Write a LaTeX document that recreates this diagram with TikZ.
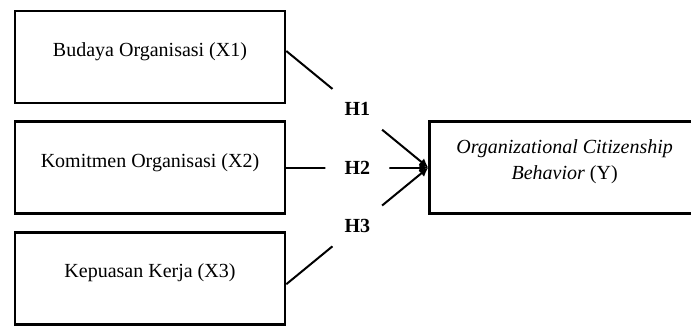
\documentclass[tikz,border=0pt]{standalone}
\usepackage{fontspec}
\setmainfont{Liberation Serif}
\usetikzlibrary{arrows.meta, positioning}

\begin{document}
\begin{tikzpicture}[
  node distance=8pt and 71pt,
  every node/.style={font=\fontsize{10}{13}\selectfont},
  box/.style={rectangle, draw, line width=1.3pt, minimum width=135pt, minimum height=46pt, align=center, text height=7pt, text depth=7.5pt},
  arrow/.style={-{Latex[length=4.5pt, width=4.5pt]}, line width=1pt},
  hyp/.style={circle, fill=white, minimum size=32pt, inner sep=0pt, font=\fontsize{10}{12}\selectfont\bfseries},
]
  \useasboundingbox (-75pt, 28.5pt) rectangle ++(345.5pt,-164.5pt);

  \node[box] (budaya) at (0,0) {Budaya Organisasi (X1)};
  \node[box, below=of budaya] (komitmen) {Komitmen Organisasi (X2)};
  \node[box, below=of komitmen] (kepuasan) {Kepuasan Kerja (X3)};
  \node[box, right=of komitmen, text height=20pt, text depth=8pt] (ocb) {\textit{Organizational Citizenship}\\\textit{Behavior} (Y)};

  \draw[arrow] ([yshift=3pt]budaya.east) -- node[hyp] (h1) {H1} (ocb.west);
  \draw[arrow] (komitmen.east) -- node[hyp] (h2) {H2} (ocb.west);
  \draw[arrow] ([yshift=-3pt]kepuasan.east) -- node[hyp] (h3) {H3} (ocb.west);
\end{tikzpicture}
\end{document}
